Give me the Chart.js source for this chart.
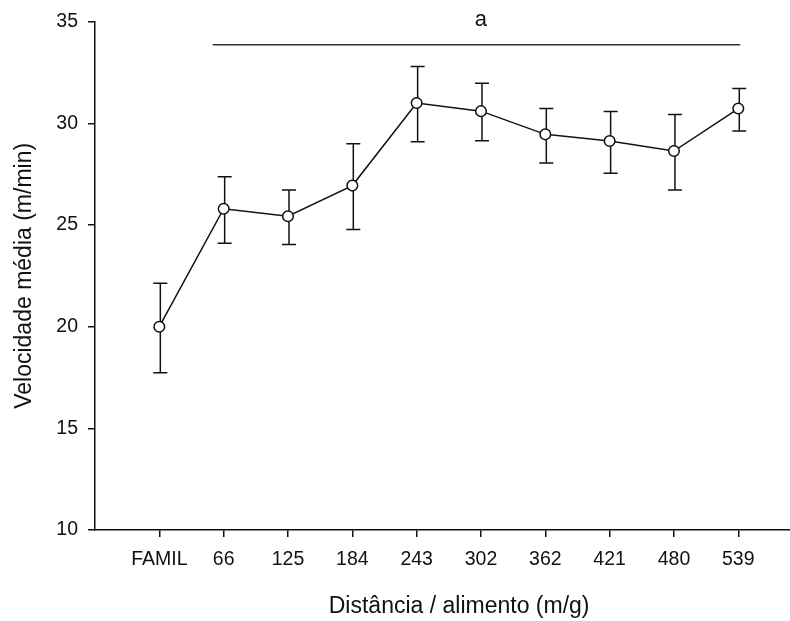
<!DOCTYPE html>
<html>
<head>
<meta charset="utf-8">
<script src="https://cdn.jsdelivr.net/npm/chart.js@4.4.1/dist/chart.umd.min.js"></script>
<style>
  html, body { margin: 0; padding: 0; background: #fff; overflow: hidden; }
  .wrap { width: 830px; height: 621px; position: relative; }
</style>
</head>
<body>
<div class="wrap"><canvas id="chart"></canvas></div>
<script>
/* ---- data ---- */
const categories = ["FAMIL", "66", "125", "184", "243", "302", "362", "421", "480", "539"];
const meanSpeed  = [20.0, 25.8, 25.43, 26.94, 31.0, 30.6, 29.46, 29.13, 28.64, 30.73];
const errHigh    = [22.13, 27.38, 26.72, 29.0, 32.8, 31.97, 30.73, 30.58, 30.43, 31.72];
const errLow     = [17.74, 24.1, 24.04, 24.78, 29.1, 29.15, 28.05, 27.55, 26.72, 29.62];
const yTicks     = [10, 15, 20, 25, 30, 35];

// significance bar "a" over the groups 66..539 (in category / value units)
const sigFrom = 0.83, sigTo = 9.03, sigY = 33.87, sigLabel = "a";

const INK = "#111";
const FONT = "'Liberation Sans', Arial, sans-serif";

/* ---- plugins: error bars + significance bar ---- */
const errorBars = {
  id: "errorBars",
  beforeDatasetsDraw(chart) {
    const { ctx, scales: { x, y } } = chart;
    ctx.save();
    ctx.strokeStyle = INK;
    ctx.lineWidth = 1.5;
    meanSpeed.forEach((_, i) => {
      const px = x.getPixelForValue(i) + 1;
      const top = y.getPixelForValue(errHigh[i]);
      const bot = y.getPixelForValue(errLow[i]);
      ctx.beginPath();
      ctx.moveTo(px, top); ctx.lineTo(px, bot);
      ctx.moveTo(px - 7, top); ctx.lineTo(px + 7, top);
      ctx.moveTo(px - 7, bot); ctx.lineTo(px + 7, bot);
      ctx.stroke();
    });
    ctx.restore();
  }
};

const sigBar = {
  id: "sigBar",
  afterDatasetsDraw(chart) {
    const { ctx, scales: { x, y } } = chart;
    const x0 = x.getPixelForValue(sigFrom);
    const x1 = x.getPixelForValue(sigTo);
    const py = y.getPixelForValue(sigY);
    ctx.save();
    ctx.strokeStyle = "#333";
    ctx.lineWidth = 1.5;
    ctx.beginPath();
    ctx.moveTo(x0, py); ctx.lineTo(x1, py);
    ctx.stroke();
    ctx.fillStyle = INK;
    ctx.font = "22px " + FONT;
    ctx.textAlign = "center";
    ctx.textBaseline = "middle";
    ctx.fillText(sigLabel, x.getPixelForValue((sigFrom + sigTo) / 2 + 0.07), y.getPixelForValue(35) - 2);
    ctx.restore();
  }
};

/* ---- chart ---- */
new Chart(document.getElementById("chart"), {
  type: "line",
  data: {
    datasets: [{
      data: meanSpeed.map((v, i) => ({ x: i, y: v })),
      borderColor: INK,
      borderWidth: 1.5,
      pointRadius: 5.3,
      pointBackgroundColor: "#fff",
      pointBorderColor: INK,
      pointBorderWidth: 1.5,
      tension: 0
    }]
  },
  options: {
    responsive: true,
    maintainAspectRatio: false,
    animation: false,
    events: [],
    layout: { padding: { top: 19, right: 0, bottom: 0, left: 0 } },
    plugins: { legend: { display: false }, tooltip: { enabled: false } },
    scales: {
      x: {
        type: "linear",
        min: -1,
        max: 10.32,
        afterBuildTicks: (s) => { s.ticks = categories.map((_, i) => ({ value: i })); },
        afterFit: (s) => { s.height = 91; },
        border: { color: INK, width: 1.5 },
        grid: { drawOnChartArea: false, drawTicks: true, tickLength: 7, color: INK, lineWidth: 1.5 },
        ticks: {
          color: INK,
          padding: 11,
          maxRotation: 0,
          autoSkip: false,
          font: { family: FONT, size: 19.5 },
          callback: (v) => categories[v] ?? ""
        },
        title: {
          display: true,
          text: "Distância / alimento (m/g)",
          color: INK,
          font: { family: FONT, size: 23 },
          padding: { top: 0, bottom: 1 }
        }
      },
      y: {
        min: 10,
        max: 35,
        afterBuildTicks: (s) => { s.ticks = yTicks.map(v => ({ value: v })); },
        afterFit: (s) => { s.width = 95; },
        border: { color: INK, width: 1.5 },
        grid: { drawOnChartArea: false, drawTicks: true, tickLength: 7, color: INK, lineWidth: 1.5 },
        ticks: {
          color: INK,
          padding: 10,
          font: { family: FONT, size: 19.5 }
        },
        title: {
          display: true,
          text: "Velocidade média (m/min)",
          color: INK,
          font: { family: FONT, size: 23 },
          padding: { top: 11, bottom: 0 }
        }
      }
    }
  },
  plugins: [errorBars, sigBar]
});
</script>
</body>
</html>
